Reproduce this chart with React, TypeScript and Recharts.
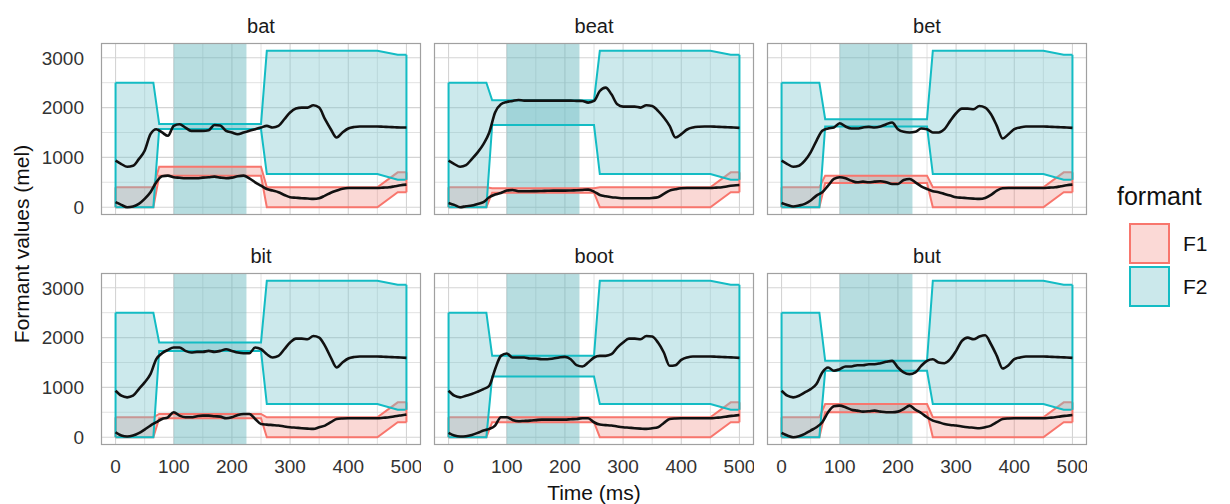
import React from 'react';
import {
  ComposedChart,
  Area,
  Line,
  XAxis,
  YAxis,
  CartesianGrid,
  ReferenceArea,
  ReferenceLine,
} from 'recharts';

const FONT = '"Liberation Sans", Arial, Helvetica, sans-serif';

// time axis of the measured tracks (ms)
const trackTime = [
  0, 10, 20, 30, 40, 50, 60, 70, 80, 90, 100, 110, 120, 130, 140, 150, 160, 170, 180, 190,
  200, 210, 220, 230, 240, 250, 260, 270, 280, 290, 300, 310, 320, 330, 340, 350, 360, 370, 380, 390,
  400, 410, 420, 430, 440, 450, 460, 470, 480, 490, 500,
];

// break points of the target ranges (ms)
const ribbonTime = [0, 65, 75, 250, 260, 450, 485, 500];

const xTicks = [0, 100, 200, 300, 400, 500];
const xMinor = [50, 150, 250, 350, 450];
const yTicks = [0, 1000, 2000, 3000];
const yMinor = [500, 1500, 2500];
const vowelWindow = [100, 225];

// measured formant tracks (mel)
const batF1 = [100, 46, 0, 13, 66, 166, 300, 500, 620, 633, 600, 590, 580, 580, 580, 593, 600, 613, 593, 580, 593, 620, 633, 580, 500, 433, 366, 333, 300, 246, 200, 190, 180, 175, 166, 180, 233, 290, 333, 370, 386, 386, 386, 386, 386, 386, 393, 400, 420, 440, 453];
const batF2 = [933, 866, 813, 833, 966, 1133, 1466, 1566, 1500, 1433, 1633, 1666, 1600, 1533, 1533, 1533, 1546, 1650, 1640, 1533, 1500, 1466, 1500, 1533, 1566, 1600, 1633, 1600, 1633, 1766, 1900, 1980, 2000, 2000, 2046, 2000, 1766, 1566, 1400, 1500, 1580, 1610, 1620, 1620, 1620, 1620, 1615, 1610, 1605, 1600, 1600];
const beatF1 = [86, 46, 0, 20, 33, 66, 100, 200, 253, 286, 333, 346, 320, 320, 320, 323, 326, 330, 333, 333, 333, 336, 340, 346, 353, 313, 246, 220, 200, 190, 180, 180, 180, 180, 180, 185, 200, 266, 333, 360, 380, 386, 386, 386, 386, 386, 393, 400, 420, 435, 446];
const beatF2 = [933, 866, 813, 846, 966, 1100, 1266, 1500, 1900, 2066, 2113, 2133, 2153, 2140, 2140, 2140, 2140, 2140, 2140, 2140, 2140, 2140, 2135, 2133, 2100, 2133, 2333, 2400, 2266, 2066, 2020, 2020, 2020, 2000, 2046, 2033, 1933, 1800, 1633, 1400, 1466, 1560, 1600, 1615, 1620, 1620, 1615, 1610, 1605, 1600, 1593];
const betF1 = [86, 46, 13, 33, 66, 133, 233, 300, 433, 566, 600, 580, 533, 500, 513, 500, 513, 520, 500, 466, 466, 546, 566, 500, 420, 366, 320, 300, 266, 233, 200, 190, 180, 172, 166, 186, 246, 333, 380, 385, 386, 386, 386, 386, 386, 386, 393, 400, 420, 440, 453];
const betF2 = [933, 866, 813, 833, 933, 1100, 1333, 1533, 1580, 1600, 1686, 1620, 1580, 1580, 1600, 1613, 1600, 1620, 1666, 1700, 1566, 1513, 1500, 1513, 1580, 1566, 1500, 1500, 1566, 1733, 1886, 1980, 1980, 1966, 2033, 2000, 1866, 1633, 1380, 1466, 1566, 1600, 1620, 1620, 1620, 1620, 1615, 1610, 1605, 1600, 1593];
const bitF1 = [100, 33, 13, 33, 80, 153, 233, 300, 366, 400, 500, 433, 400, 400, 420, 433, 433, 420, 413, 380, 400, 446, 466, 466, 366, 266, 253, 243, 233, 215, 200, 190, 180, 172, 166, 200, 233, 300, 366, 376, 380, 380, 380, 380, 380, 380, 390, 400, 420, 437, 453];
const bitF2 = [933, 833, 800, 833, 966, 1100, 1266, 1566, 1686, 1753, 1800, 1800, 1733, 1700, 1713, 1713, 1733, 1713, 1733, 1766, 1733, 1700, 1686, 1686, 1800, 1766, 1666, 1600, 1633, 1766, 1900, 1980, 1980, 1966, 2033, 2000, 1833, 1600, 1400, 1500, 1580, 1610, 1620, 1620, 1620, 1620, 1615, 1610, 1605, 1600, 1593];
const bootF1 = [86, 33, 13, 20, 46, 86, 133, 166, 233, 400, 400, 346, 320, 326, 333, 343, 353, 353, 353, 353, 353, 360, 366, 380, 380, 300, 253, 243, 233, 215, 200, 190, 180, 172, 166, 180, 200, 286, 366, 376, 380, 380, 380, 380, 380, 380, 390, 400, 418, 432, 446];
const bootF2 = [933, 833, 800, 833, 866, 913, 966, 1033, 1366, 1633, 1680, 1600, 1600, 1600, 1580, 1580, 1566, 1566, 1580, 1600, 1613, 1566, 1446, 1420, 1500, 1600, 1633, 1633, 1666, 1800, 1900, 1980, 1980, 1966, 2033, 2020, 1900, 1700, 1433, 1446, 1553, 1600, 1620, 1620, 1620, 1620, 1615, 1610, 1605, 1600, 1593];
const butF1 = [86, 33, 0, 20, 66, 133, 200, 300, 500, 620, 633, 600, 553, 533, 513, 520, 533, 513, 500, 500, 513, 566, 633, 553, 486, 400, 333, 300, 266, 246, 233, 215, 200, 190, 180, 200, 233, 300, 366, 376, 380, 380, 380, 380, 380, 380, 390, 400, 418, 432, 446];
const butF2 = [933, 833, 800, 833, 900, 966, 1066, 1300, 1400, 1333, 1366, 1420, 1420, 1446, 1446, 1466, 1466, 1486, 1513, 1533, 1400, 1300, 1266, 1300, 1433, 1533, 1566, 1500, 1486, 1566, 1733, 1933, 2000, 1966, 2020, 2046, 1866, 1633, 1380, 1446, 1566, 1600, 1620, 1620, 1620, 1620, 1615, 1610, 1605, 1600, 1593];

// target ranges at ribbonTime (mel)
const batF1Lo = [0, 0, 630, 630, 0, 0, 300, 300];
const batF1Hi = [400, 400, 810, 810, 400, 400, 700, 700];
const batF2Lo = [0, 0, 1570, 1570, 666, 666, 550, 550];
const batF2Hi = [2500, 2500, 1670, 1670, 3140, 3140, 3060, 3060];
const beatF1Lo = [0, 0, 290, 290, 0, 0, 300, 300];
const beatF1Hi = [400, 400, 380, 380, 400, 400, 700, 700];
const beatF2Lo = [0, 0, 1650, 1650, 666, 666, 550, 550];
const beatF2Hi = [2500, 2500, 2145, 2145, 3140, 3140, 3060, 3060];
const betF1Lo = [0, 0, 486, 486, 0, 0, 300, 300];
const betF1Hi = [400, 400, 633, 633, 400, 400, 700, 700];
const betF2Lo = [0, 0, 1620, 1620, 666, 666, 550, 550];
const betF2Hi = [2500, 2500, 1766, 1766, 3140, 3140, 3060, 3060];
const bitF1Lo = [0, 0, 380, 380, 0, 0, 300, 300];
const bitF1Hi = [400, 400, 466, 466, 400, 400, 700, 700];
const bitF2Lo = [0, 0, 1733, 1733, 666, 666, 550, 550];
const bitF2Hi = [2500, 2500, 1900, 1900, 3140, 3140, 3060, 3060];
const bootF1Lo = [0, 0, 300, 300, 0, 0, 300, 300];
const bootF1Hi = [400, 400, 400, 400, 400, 400, 700, 700];
const bootF2Lo = [0, 0, 1220, 1220, 666, 666, 550, 550];
const bootF2Hi = [2500, 2500, 1633, 1633, 3140, 3140, 3060, 3060];
const butF1Lo = [0, 0, 500, 500, 0, 0, 300, 300];
const butF1Hi = [400, 400, 666, 666, 400, 400, 700, 700];
const butF2Lo = [0, 0, 1333, 1333, 666, 666, 550, 550];
const butF2Hi = [2500, 2500, 1533, 1533, 3140, 3140, 3060, 3060];

const panels = [
  { word: 'bat', f1: batF1, f2: batF2, f1Lo: batF1Lo, f1Hi: batF1Hi, f2Lo: batF2Lo, f2Hi: batF2Hi },
  { word: 'beat', f1: beatF1, f2: beatF2, f1Lo: beatF1Lo, f1Hi: beatF1Hi, f2Lo: beatF2Lo, f2Hi: beatF2Hi },
  { word: 'bet', f1: betF1, f2: betF2, f1Lo: betF1Lo, f1Hi: betF1Hi, f2Lo: betF2Lo, f2Hi: betF2Hi },
  { word: 'bit', f1: bitF1, f2: bitF2, f1Lo: bitF1Lo, f1Hi: bitF1Hi, f2Lo: bitF2Lo, f2Hi: bitF2Hi },
  { word: 'boot', f1: bootF1, f2: bootF2, f1Lo: bootF1Lo, f1Hi: bootF1Hi, f2Lo: bootF2Lo, f2Hi: bootF2Hi },
  { word: 'but', f1: butF1, f2: butF2, f1Lo: butF1Lo, f1Hi: butF1Hi, f2Lo: butF2Lo, f2Hi: butF2Hi },
];

const F1_LINE = '#f8766d';
const F1_FILL = '#f07f75';
const F2_LINE = '#14bcc4';
const F2_FILL = '#7fc8cf';

// layout of the facet grid
const COL_LEFT = [101, 434, 767];
const ROW_TOP = [43, 273];
const PW = 320;
const PH = 172;
const Y_AXIS_W = 101;
const X_AXIS_H = 40;
const PAD = 20; // room below a panel so its y tick labels are not clipped

const tickStyle = { fontSize: 19, fill: '#333', fontFamily: FONT };

type PanelDef = (typeof panels)[number];

const Panel = ({ p, col, row }: { p: PanelDef; col: number; row: number }) => {
  const showY = col === 0;
  const showX = row === 1;
  const track = trackTime.map((t, i) => ({ t, f1: p.f1[i], f2: p.f2[i] }));
  const band = ribbonTime.map((t, i) => ({ t, f1: [p.f1Lo[i], p.f1Hi[i]], f2: [p.f2Lo[i], p.f2Hi[i]] }));
  const last = ribbonTime.length - 1;
  const yW = showY ? Y_AXIS_W : 0;
  const xH = showX ? X_AXIS_H : 0;
  const padB = showX ? 0 : PAD;

  // closing edges of the ribbons at both ends
  const ends = [
    { x: ribbonTime[0], lo: p.f1Lo[0], hi: p.f1Hi[0], c: F1_LINE },
    { x: ribbonTime[last], lo: p.f1Lo[last], hi: p.f1Hi[last], c: F1_LINE },
    { x: ribbonTime[0], lo: p.f2Lo[0], hi: p.f2Hi[0], c: F2_LINE },
    { x: ribbonTime[last], lo: p.f2Lo[last], hi: p.f2Hi[last], c: F2_LINE },
  ];

  return (
    <div style={{ position: 'absolute', left: COL_LEFT[col] - yW, top: ROW_TOP[row] }}>
      <ComposedChart width={PW + yW} height={PH + xH + padB} margin={{ top: 0, right: 0, bottom: padB, left: 0 }}>
        <XAxis
          dataKey="t"
          type="number"
          domain={[-25, 525]}
          ticks={xTicks}
          interval={0}
          allowDataOverflow
          hide={!showX}
          height={xH}
          tickLine={false}
          axisLine={false}
          tickSize={0}
          tickMargin={15}
          tick={tickStyle}
        />
        <YAxis
          type="number"
          domain={[-157, 3297]}
          ticks={yTicks}
          interval={0}
          allowDataOverflow
          hide={!showY}
          width={yW}
          tickLine={false}
          axisLine={false}
          tickSize={0}
          tickMargin={17}
          tick={tickStyle}
        />
        <CartesianGrid horizontalValues={yMinor} verticalValues={xMinor} stroke="#dfdfdf" strokeWidth={0.9} />
        <CartesianGrid horizontalValues={yTicks} verticalValues={xTicks} stroke="#d4d4d4" strokeWidth={1.1} />
        <ReferenceArea
          x1={vowelWindow[0]}
          x2={vowelWindow[1]}
          fill="#5fb3bb"
          fillOpacity={0.45}
          stroke="none"
        />
        <Area
          data={band}
          dataKey="f1"
          type="linear"
          stroke={F1_LINE}
          strokeWidth={2}
          fill={F1_FILL}
          fillOpacity={0.3}
          dot={false}
          activeDot={false}
          isAnimationActive={false}
        />
        {ends.slice(0, 2).map((e, i) => (
          <ReferenceLine key={`f1e${i}`} segment={[{ x: e.x, y: e.lo }, { x: e.x, y: e.hi }]} stroke={e.c} strokeWidth={2} />
        ))}
        <Area
          data={band}
          dataKey="f2"
          type="linear"
          stroke={F2_LINE}
          strokeWidth={2}
          fill={F2_FILL}
          fillOpacity={0.4}
          dot={false}
          activeDot={false}
          isAnimationActive={false}
        />
        {ends.slice(2).map((e, i) => (
          <ReferenceLine key={`f2e${i}`} segment={[{ x: e.x, y: e.lo }, { x: e.x, y: e.hi }]} stroke={e.c} strokeWidth={2} />
        ))}
        <Line data={track} dataKey="f1" type="monotone" stroke="#111" strokeWidth={2.6} dot={false} activeDot={false} isAnimationActive={false} />
        <Line data={track} dataKey="f2" type="monotone" stroke="#111" strokeWidth={2.6} dot={false} activeDot={false} isAnimationActive={false} />
      </ComposedChart>
    </div>
  );
};

const Overlay = () => (
  <svg width={1230} height={504} style={{ position: 'absolute', left: 0, top: 0, pointerEvents: 'none' }} fontFamily={FONT}>
    {panels.map((p, i) => {
      const col = i % 3;
      const row = Math.floor(i / 3);
      return (
        <g key={p.word}>
          <rect x={COL_LEFT[col] + 0.5} y={ROW_TOP[row] + 0.5} width={PW - 1} height={PH - 1} fill="none" stroke="#a0a0a0" strokeWidth={1.2} />
          <text x={COL_LEFT[col] + PW / 2} y={ROW_TOP[row] - 10} textAnchor="middle" fontSize={20} fill="#1a1a1a">
            {p.word}
          </text>
        </g>
      );
    })}
    <text transform="translate(29,244) rotate(-90)" textAnchor="middle" fontSize={21} fill="#111">
      Formant values (mel)
    </text>
    <text x={594} y={500} textAnchor="middle" fontSize={21} fill="#111">
      Time (ms)
    </text>
    <text x={1117} y={205} fontSize={25} fill="#111">formant</text>
    <rect x={1130} y={224} width={39} height={39} fill="#fbd9d6" stroke={F1_LINE} strokeWidth={2} />
    <rect x={1130} y={267} width={39} height={39} fill="#cbe8eb" stroke={F2_LINE} strokeWidth={2} />
    <text x={1183} y={251} fontSize={21} fill="#111">F1</text>
    <text x={1183} y={294} fontSize={21} fill="#111">F2</text>
  </svg>
);

export default function App() {
  return (
    <div style={{ position: 'absolute', left: 0, top: 0, width: 1230, height: 504, background: '#fff', fontFamily: FONT }}>
      {panels.map((p, i) => (
        <Panel key={p.word} p={p} col={i % 3} row={Math.floor(i / 3)} />
      ))}
      <Overlay />
    </div>
  );
}
